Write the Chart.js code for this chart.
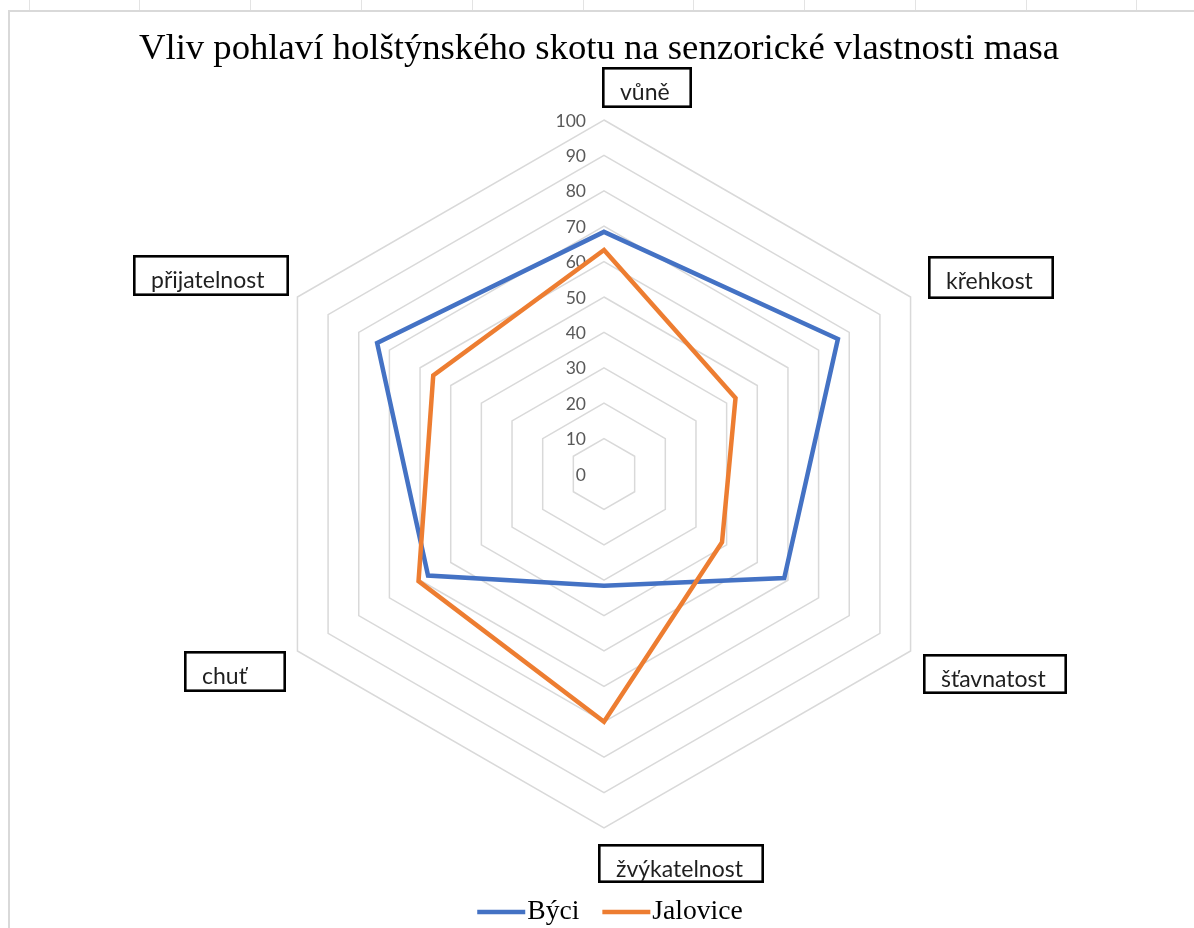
<!DOCTYPE html>
<html><head><meta charset="utf-8">
<script src="https://cdn.jsdelivr.net/npm/chart.js@4.4.0/dist/chart.umd.min.js"></script>
<style>html,body{margin:0;padding:0;background:#fff;overflow:hidden}#wrap{width:1194px;height:928px;position:relative}</style>
</head><body><div id="wrap"><canvas id="c" width="1194" height="928"></canvas></div>
<script>
const chartTitle = 'Vliv pohlaví holštýnského skotu na senzorické vlastnosti masa';
const categories = ['vůně', 'křehkost', 'šťavnatost', 'žvýkatelnost', 'chuť', 'přijatelnost'];
const seriesNames = ['Býci', 'Jalovice'];
const byciValues = [68.4, 76.3, 58.8, 31.6, 57.4, 74.0];
const jaloviceValues = [63.3, 42.9, 38.5, 70.0, 60.5, 55.7];
const tickLabels = ['0', '10', '20', '30', '40', '50', '60', '70', '80', '90', '100'];
const seriesColors = ['#4472C4', '#ED7D31'];

// label box styling: offsets relative to each axis end point (from the scale)
const labelBoxes = [
  {dx: -2, dy: -53, w: 90, h: 41},
  {dx: 17, dy: -41, w: 126, h: 43},
  {dx: 12, dy: 3, w: 144, h: 40},
  {dx: -6, dy: 16, w: 166, h: 39},
  {dx: -113, dy: 0, w: 102, h: 41},
  {dx: -164, dy: -42, w: 156, h: 41}
];
const labelFont = '23px Lato';
const tickFont = '17.5px Lato';
const titleFont = '36.7px "Liberation Serif"';
const legendFont = '27.6px "Liberation Serif"';

const decor = {
  id: 'decor',
  beforeDraw(chart) {
    const ctx = chart.ctx;
    ctx.save();
    ctx.fillStyle = '#fff';
    ctx.fillRect(0, 0, chart.width, chart.height);
    ctx.strokeStyle = '#e3e3e3';
    ctx.lineWidth = 1;
    for (let x = 28.5; x < chart.width; x += 110.8) {
      ctx.beginPath(); ctx.moveTo(Math.round(x) + 0.5, 0); ctx.lineTo(Math.round(x) + 0.5, 10); ctx.stroke();
    }
    ctx.strokeStyle = '#d9d9d9';
    ctx.lineWidth = 2;
    ctx.beginPath(); ctx.moveTo(9, chart.height); ctx.lineTo(9, 11); ctx.lineTo(chart.width, 11); ctx.stroke();
    // title
    ctx.fillStyle = '#000';
    ctx.font = titleFont;
    ctx.textAlign = 'center';
    ctx.textBaseline = 'alphabetic';
    ctx.fillText(chartTitle, 599, 59);
    ctx.restore();
  },
  beforeDatasetsDraw(chart) {
    const s = chart.scales.r, ctx = chart.ctx;
    ctx.save();
    ctx.font = tickFont;
    ctx.fillStyle = '#595959';
    ctx.textAlign = 'right';
    ctx.textBaseline = 'middle';
    s.ticks.forEach((t, i) => {
      const d = s.getDistanceFromCenterForValue(t.value);
      ctx.fillText(tickLabels[i], s.xCenter - 18, s.yCenter - d + 1);
    });
    ctx.restore();
  },
  afterDraw(chart) {
    const s = chart.scales.r, ctx = chart.ctx;
    ctx.save();
    chart.data.labels.forEach((lab, i) => {
      const p = s.getPointPosition(i, s.drawingArea);
      const b = labelBoxes[i];
      const x = Math.round(p.x + b.dx), y = Math.round(p.y + b.dy);
      ctx.fillStyle = '#fff';
      ctx.fillRect(x, y, b.w, b.h);
      ctx.strokeStyle = '#000';
      ctx.lineWidth = 2.6;
      ctx.strokeRect(x + 1.3, y + 1.3, b.w - 2.6, b.h - 2.6);
      ctx.fillStyle = '#1f1f1f';
      ctx.font = labelFont;
      ctx.textAlign = 'left';
      ctx.textBaseline = 'alphabetic';
      ctx.fillText(lab, x + 18, y + 33);
    });
    // legend
    ctx.font = legendFont;
    const lineW = 48, gap = 2, spacing = 23;
    const items = chart.data.datasets.map(ds => ({ds, tw: ctx.measureText(ds.label).width}));
    const total = items.reduce((a, it) => a + lineW + gap + it.tw, 0) + spacing * (items.length - 1);
    let x = 610 - total / 2;
    items.forEach(it => {
      ctx.strokeStyle = it.ds.borderColor;
      ctx.lineWidth = 4.5;
      ctx.lineCap = 'butt';
      ctx.beginPath(); ctx.moveTo(x, 912); ctx.lineTo(x + lineW, 912); ctx.stroke();
      ctx.fillStyle = '#000';
      ctx.textAlign = 'left';
      ctx.fillText(it.ds.label, x + lineW + gap, 919);
      x += lineW + gap + it.tw + spacing;
    });
    ctx.restore();
  }
};

new Chart(document.getElementById('c'), {
  type: 'radar',
  data: {
    labels: categories,
    datasets: [
      {label: seriesNames[0], data: byciValues, borderColor: seriesColors[0], backgroundColor: 'rgba(0,0,0,0)', fill: false, order: 1},
      {label: seriesNames[1], data: jaloviceValues, borderColor: seriesColors[1], backgroundColor: 'rgba(0,0,0,0)', fill: false, order: 0}
    ]
  },
  options: {
    responsive: false,
    animation: false,
    layout: {padding: {top: 120, bottom: 100, left: 14, right: 0}},
    plugins: {legend: {display: false}, title: {display: false}, tooltip: {enabled: false}},
    elements: {line: {tension: 0, borderWidth: 4.5}, point: {radius: 0, hoverRadius: 0}},
    scales: {
      r: {
        min: 0, max: 100,
        ticks: {stepSize: 10, display: false},
        grid: {color: '#d9d9d9', lineWidth: 1.5},
        angleLines: {display: false},
        pointLabels: {display: false}
      }
    }
  },
  plugins: [decor]
});
</script></body></html>
